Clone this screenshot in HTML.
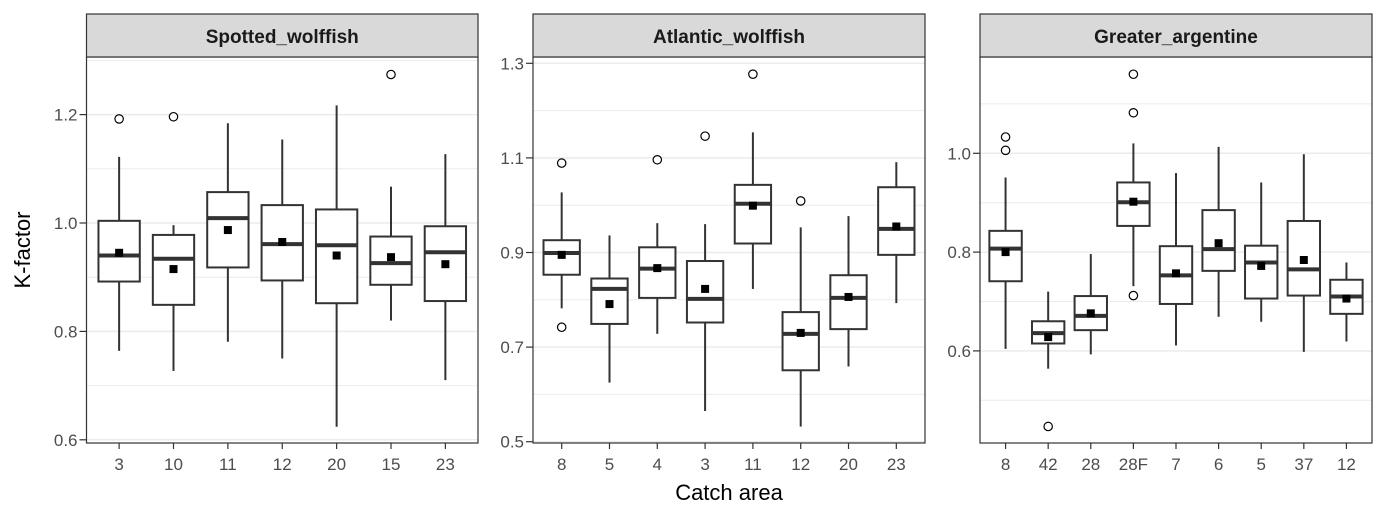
<!DOCTYPE html>
<html><head><meta charset="utf-8">
<style>
html,body{margin:0;padding:0;background:#fff;}
svg{display:block;font-family:"Liberation Sans",Arial,sans-serif;}
</style></head>
<body>
<svg id="chart" width="1386" height="520" viewBox="0 0 1386 520" xmlns="http://www.w3.org/2000/svg">
<text x="0" y="0" transform="translate(30,250) rotate(-90)" text-anchor="middle" font-size="22" fill="#000">K-factor</text>
<text x="729" y="500" text-anchor="middle" font-size="22" fill="#000">Catch area</text>
</svg>
<script>
// ---- Data ----
const speciesNames = ["Spotted_wolffish", "Atlantic_wolffish", "Greater_argentine"];

const spottedCats = ["3","10","11","12","20","15","23"];
const spottedLow = [0.764,0.727,0.781,0.750,0.624,0.820,0.710];
const spottedQ1 = [0.892,0.849,0.918,0.894,0.852,0.886,0.856];
const spottedMed = [0.940,0.934,1.009,0.961,0.959,0.926,0.946];
const spottedQ3 = [1.004,0.978,1.057,1.033,1.025,0.975,0.994];
const spottedHigh = [1.122,0.996,1.184,1.154,1.217,1.067,1.127];
const spottedMean = [0.945,0.915,0.987,0.965,0.940,0.937,0.924];
const spottedOutliers = [[1.192],[1.196],[],[],[],[1.274],[]];

const atlanticCats = ["8","5","4","3","11","12","20","23"];
const atlanticLow = [0.782,0.625,0.728,0.565,0.823,0.532,0.659,0.793];
const atlanticQ1 = [0.853,0.749,0.804,0.752,0.919,0.651,0.738,0.895];
const atlanticMed = [0.899,0.823,0.866,0.802,1.003,0.728,0.804,0.950];
const atlanticQ3 = [0.926,0.845,0.911,0.882,1.043,0.774,0.852,1.038];
const atlanticHigh = [1.027,0.936,0.962,0.960,1.154,0.953,0.977,1.091];
const atlanticMean = [0.895,0.791,0.867,0.823,0.999,0.730,0.806,0.955];
const atlanticOutliers = [[1.089,0.742],[],[1.096],[1.146],[1.277],[1.009],[],[]];

const argentineCats = ["8","42","28","28F","7","6","5","37","12"];
const argentineLow = [0.604,0.564,0.593,0.731,0.611,0.669,0.659,0.598,0.619];
const argentineQ1 = [0.741,0.615,0.642,0.853,0.695,0.762,0.706,0.712,0.675];
const argentineMed = [0.807,0.636,0.671,0.901,0.753,0.806,0.779,0.765,0.710];
const argentineQ3 = [0.843,0.660,0.711,0.941,0.812,0.885,0.813,0.863,0.744];
const argentineHigh = [0.951,0.720,0.796,1.020,0.960,1.013,0.941,0.998,0.779];
const argentineMean = [0.800,0.628,0.676,0.902,0.757,0.818,0.772,0.784,0.706];
const argentineOutliers = [[1.033,1.006],[0.447],[],[1.160,1.082,0.712],[],[],[],[],[]];

const spottedTicks = [0.6,0.8,1.0,1.2];
const spottedMinor = [0.7,0.9,1.1,1.3];
const atlanticTicks = [0.5,0.7,0.9,1.1,1.3];
const atlanticMinor = [0.6,0.8,1.0,1.2];
const argentineTicks = [0.6,0.8,1.0];
const argentineMinor = [0.5,0.7,0.9,1.1];

// ---- Layout ----
const NS = "http://www.w3.org/2000/svg";
const svg = document.getElementById("chart");
const stripTop = 14, plotTop = 57, plotBottom = 443;
const panels = [
  {left:86.5,right:478,ref:[1.0,223,542],cats:spottedCats,low:spottedLow,q1:spottedQ1,med:spottedMed,q3:spottedQ3,high:spottedHigh,mean:spottedMean,out:spottedOutliers,ticks:spottedTicks,minor:spottedMinor,key:"spotted"},
  {left:533,right:925,ref:[1.3,63.3,473],cats:atlanticCats,low:atlanticLow,q1:atlanticQ1,med:atlanticMed,q3:atlanticQ3,high:atlanticHigh,mean:atlanticMean,out:atlanticOutliers,ticks:atlanticTicks,minor:atlanticMinor,key:"atlantic"},
  {left:980,right:1372,ref:[1.0,153.3,494],cats:argentineCats,low:argentineLow,q1:argentineQ1,med:argentineMed,q3:argentineQ3,high:argentineHigh,mean:argentineMean,out:argentineOutliers,ticks:argentineTicks,minor:argentineMinor,key:"argentine"}
];
function mk(tag, attrs){const e=document.createElementNS(NS,tag);for(const k in attrs)e.setAttribute(k,attrs[k]);return e;}
function fmt(v){return v.toFixed(1);}

panels.forEach((p, pi) => {
  const g = mk("g",{});
  
  
  svg.appendChild(g);
  const y = v => p.ref[1] + (p.ref[0]-v)*p.ref[2];
  const n = p.cats.length;
  const step = (p.right-p.left)/(n-1+1.2);
  const x = i => p.left + step*(0.6+i);
  const bw = step*0.76;
  // grid
  p.minor.forEach(v => { const yy=y(v); if(yy<plotTop||yy>plotBottom) return;
    const l=mk("line",{x1:p.left,x2:p.right,y1:yy,y2:yy,stroke:"#ebebeb","stroke-width":1});
    
    
    g.appendChild(l);});
  p.ticks.forEach(v => { const yy=y(v);
    const l=mk("line",{x1:p.left,x2:p.right,y1:yy,y2:yy,stroke:"#ebebeb","stroke-width":1.5});
    
    
    g.appendChild(l);
    const t=mk("line",{x1:p.left-7,x2:p.left,y1:yy,y2:yy,stroke:"#333","stroke-width":1.2});
    
    
    g.appendChild(t);
    const tx=mk("text",{x:p.left-9,y:yy+6,"text-anchor":"end","font-size":17,fill:"#4d4d4d"});
    tx.textContent=fmt(v);
    
    
    g.appendChild(tx);
  });
  // boxes
  p.cats.forEach((c,i) => {
    const cx=x(i);
    const bg=mk("g",{});
    
    
    g.appendChild(bg);
    bg.appendChild(mk("line",{x1:cx,x2:cx,y1:y(p.high[i]),y2:y(p.q3[i]),stroke:"#333","stroke-width":2}));
    bg.appendChild(mk("line",{x1:cx,x2:cx,y1:y(p.q1[i]),y2:y(p.low[i]),stroke:"#333","stroke-width":2}));
    bg.appendChild(mk("rect",{x:cx-bw/2,y:y(p.q3[i]),width:bw,height:y(p.q1[i])-y(p.q3[i]),fill:"#fff",stroke:"#333","stroke-width":2}));
    bg.appendChild(mk("line",{x1:cx-bw/2,x2:cx+bw/2,y1:y(p.med[i]),y2:y(p.med[i]),stroke:"#333","stroke-width":4}));
    p.out[i].forEach(v => {
      const o=mk("circle",{cx:cx,cy:y(v),r:4.2,fill:"#fff",stroke:"#000","stroke-width":1.2});
      
      
      bg.appendChild(o);
    });
    const m=mk("rect",{x:cx-4,y:y(p.mean[i])-4,width:8,height:8,fill:"#000"});
    
    
    bg.appendChild(m);
    const t=mk("line",{x1:cx,x2:cx,y1:plotBottom,y2:plotBottom+6,stroke:"#333","stroke-width":1.2});
    
    
    g.appendChild(t);
    const tx=mk("text",{x:cx,y:plotBottom+27,"text-anchor":"middle","font-size":17,fill:"#4d4d4d"});
    tx.textContent=c;
    
    
    g.appendChild(tx);
  });
  // border
  const b=mk("rect",{x:p.left,y:plotTop,width:p.right-p.left,height:plotBottom-plotTop,fill:"none",stroke:"#333","stroke-width":1.2});
  
  
  g.appendChild(b);
  // strip
  const s=mk("rect",{x:p.left,y:stripTop,width:p.right-p.left,height:plotTop-stripTop,fill:"#d9d9d9",stroke:"#333","stroke-width":1.2});
  
  
  g.appendChild(s);
  const st=mk("text",{x:(p.left+p.right)/2,y:43,"text-anchor":"middle","font-size":19,"font-weight":"bold",fill:"#1a1a1a"});
  st.textContent=speciesNames[pi];
  
  
  g.appendChild(st);
});
</script>
</body></html>
